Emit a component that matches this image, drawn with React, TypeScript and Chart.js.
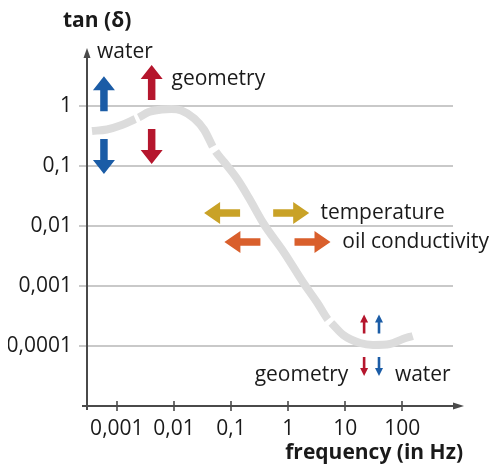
import React, { useEffect, useRef } from 'react';
import { Chart, registerables } from 'chart.js';

Chart.register(...registerables);

// ---- data ----
const freqHz = [
  3.67e-4, 6.7e-4, 1.22e-3, 2.1e-3, 2.42e-3, 3.61e-3, 6.06e-3, 9.05e-3, 0.0135, 0.0227,
  0.0339, 0.0477, 0.0537, 0.0755, 0.132, 0.206, 0.375, 0.835, 1.86, 3.26,
  4.96, 5.71, 9.23, 18.2, 30.7, 60.6, 102, 152,
];
const tanDelta = [
  0.383, 0.406, 0.482, 0.607, 0.643, 0.794, 0.874, 0.891, 0.841, 0.619,
  0.398, 0.211, 0.174, 0.1166, 0.0584, 0.0293, 0.0108, 3.69e-3, 1.12e-3, 5.21e-4,
  2.76e-4, 2.42e-4, 1.525e-4, 1.12e-4, 1.04e-4, 1.08e-4, 1.31e-4, 1.47e-4,
];
// segments starting at these indices are left blank (small cuts in the curve)
const gapStarts = [3, 11, 20];

const xTickValues = [0.001, 0.01, 0.1, 1, 10, 100];
const xTickLabels = ['0,001', '0,01', '0,1', '1', '10', '100'];
const yTickValues = [0.0001, 0.001, 0.01, 0.1, 1];
const yTickLabels = ['0,0001', '0,001', '0,01', '0,1', '1'];
const xRange = [Math.pow(10, -3.487), Math.pow(10, 2.887)];
const yRange = [1e-5, Math.pow(10, 0.967)];

const BLUE = '#1b5ca6';
const RED = '#b5162d';
const YELLOW = '#c9a227';
const ORANGE = '#d95f2c';
const CURVE = '#dcdcdc';
const AXIS = '#4a4a4a';
const GRID = '#c9c9c9';
const TEXT = '#1a1a1a';
const FONT = '"Open Sans", "Noto Sans", sans-serif';

// annotation arrows, anchored at data coordinates (centre of arrow)
type Arrow = { x: number; y: number; dir: 'up' | 'down' | 'left' | 'right'; color: string; size: 'big' | 'small' };
const arrows: Arrow[] = [
  { x: 5.94e-4, y: 1.6, dir: 'up', color: BLUE, size: 'big' },
  { x: 5.94e-4, y: 0.144, dir: 'down', color: BLUE, size: 'big' },
  { x: 4.07e-3, y: 2.46, dir: 'up', color: RED, size: 'big' },
  { x: 4.07e-3, y: 0.211, dir: 'down', color: RED, size: 'big' },
  { x: 0.0697, y: 0.0165, dir: 'left', color: YELLOW, size: 'big' },
  { x: 1.13, y: 0.0165, dir: 'right', color: YELLOW, size: 'big' },
  { x: 0.158, y: 0.0054, dir: 'left', color: ORANGE, size: 'big' },
  { x: 2.67, y: 0.0054, dir: 'right', color: ORANGE, size: 'big' },
  { x: 21.4, y: 2.33e-4, dir: 'up', color: RED, size: 'small' },
  { x: 39, y: 2.33e-4, dir: 'up', color: BLUE, size: 'small' },
  { x: 21.4, y: 4.55e-5, dir: 'down', color: RED, size: 'small' },
  { x: 39, y: 4.55e-5, dir: 'down', color: BLUE, size: 'small' },
];

type Label = { text: string; x: number; y: number; align: CanvasTextAlign };
const labels: Label[] = [
  { text: 'water', x: 4.49e-4, y: 7.94, align: 'left' },
  { text: 'geometry', x: 9.06e-3, y: 2.82, align: 'left' },
  { text: 'temperature', x: 3.67, y: 0.0165, align: 'left' },
  { text: 'oil conductivity', x: 8.87, y: 0.0054, align: 'left' },
  { text: 'geometry', x: 11.3, y: 3.29e-5, align: 'right' },
  { text: 'water', x: 74, y: 3.29e-5, align: 'left' },
];

const yTitle = 'tan (δ)';
const xTitle = 'frequency (in Hz)';

function drawArrow(ctx: CanvasRenderingContext2D, cx: number, cy: number, a: Arrow) {
  const big = a.size === 'big';
  const horiz = a.dir === 'left' || a.dir === 'right';
  const len = big ? (horiz ? 36 : 35) : 19;
  const shaft = big ? 7.5 : 2.6;
  const headW = big ? 22 : 8;
  const headL = big ? (horiz ? 16 : 14) : 8;
  const angle = a.dir === 'right' ? 0 : a.dir === 'left' ? Math.PI : a.dir === 'up' ? -Math.PI / 2 : Math.PI / 2;
  ctx.save();
  ctx.translate(cx, cy);
  ctx.rotate(angle);
  const h = len / 2;
  ctx.beginPath();
  ctx.moveTo(-h, -shaft / 2);
  ctx.lineTo(h - headL, -shaft / 2);
  ctx.lineTo(h - headL, -headW / 2);
  ctx.lineTo(h, 0);
  ctx.lineTo(h - headL, headW / 2);
  ctx.lineTo(h - headL, shaft / 2);
  ctx.lineTo(-h, shaft / 2);
  ctx.closePath();
  ctx.fillStyle = a.color;
  ctx.fill();
  ctx.restore();
}

const overlayPlugin = {
  id: 'overlay',
  afterDraw(chart: any) {
    const { ctx, chartArea, scales } = chart;
    const xs = scales.x;
    const ys = scales.y;
    ctx.save();
    ctx.strokeStyle = AXIS;
    ctx.fillStyle = AXIS;
    ctx.lineWidth = 2;
    const left = chartArea.left;
    const bottom = chartArea.bottom;
    ctx.beginPath();
    ctx.moveTo(left, bottom + 4);
    ctx.lineTo(left, chartArea.top + 6);
    ctx.moveTo(left - 5, bottom);
    ctx.lineTo(chartArea.right + 4, bottom);
    ctx.stroke();
    ctx.beginPath();
    ctx.moveTo(left, chartArea.top);
    ctx.lineTo(left - 3.5, chartArea.top + 10);
    ctx.lineTo(left + 3.5, chartArea.top + 10);
    ctx.closePath();
    ctx.fill();
    const tip = chartArea.right + 11;
    ctx.beginPath();
    ctx.moveTo(tip, bottom);
    ctx.lineTo(tip - 11, bottom - 3.5);
    ctx.lineTo(tip - 11, bottom + 3.5);
    ctx.closePath();
    ctx.fill();
    ctx.lineWidth = 1.6;
    ctx.beginPath();
    xTickValues.forEach((v) => {
      const px = Math.round(xs.getPixelForValue(v));
      ctx.moveTo(px, bottom - 5);
      ctx.lineTo(px, bottom + 5);
    });
    ctx.stroke();

    arrows.forEach((a) => drawArrow(ctx, xs.getPixelForValue(a.x), ys.getPixelForValue(a.y), a));

    ctx.fillStyle = TEXT;
    ctx.font = `21px ${FONT}`;
    ctx.textBaseline = 'middle';
    labels.forEach((l) => {
      ctx.textAlign = l.align;
      ctx.fillText(l.text, xs.getPixelForValue(l.x), ys.getPixelForValue(l.y));
    });

    ctx.font = `bold 21px ${FONT}`;
    ctx.textAlign = 'left';
    ctx.fillText(yTitle, left - 24, chartArea.top - 27);
    ctx.textAlign = 'right';
    ctx.fillText(xTitle, chartArea.right + 10, bottom + 47);
    ctx.restore();
  },
};

export default function App() {
  const ref = useRef<HTMLCanvasElement | null>(null);
  useEffect(() => {
    if (!ref.current) return;
    const chart = new Chart(ref.current, {
      type: 'line',
      data: {
        datasets: [
          {
            data: freqHz.map((f, i) => ({ x: f, y: tanDelta[i] })),
            borderColor: CURVE,
            borderWidth: 8,
            borderCapStyle: 'butt',
            pointRadius: 0,
            cubicInterpolationMode: 'monotone',
            fill: false,
            segment: {
              borderColor: (c: any) => (gapStarts.includes(c.p0DataIndex) ? 'rgba(255,255,255,0)' : CURVE),
            },
          },
        ],
      },
      options: {
        responsive: false,
        animation: false,
        events: [],
        layout: { padding: { top: 40, right: 38, left: 0, bottom: 0 } },
        plugins: { legend: { display: false }, tooltip: { enabled: false }, title: { display: false } },
        scales: {
          x: {
            type: 'logarithmic',
            min: xRange[0],
            max: xRange[1],
            afterBuildTicks: (s: any) => {
              s.ticks = xTickValues.map((v) => ({ value: v }));
            },
            afterFit: (s: any) => {
              s.height = 60;
            },
            grid: { display: false, drawTicks: false },
            border: { display: false },
            ticks: {
              autoSkip: false,
              maxRotation: 0,
              padding: 10,
              color: TEXT,
              font: { family: FONT, size: 21 },
              callback: (_v: any, i: number) => xTickLabels[i],
            },
          },
          y: {
            type: 'logarithmic',
            min: yRange[0],
            max: yRange[1],
            afterBuildTicks: (s: any) => {
              s.ticks = yTickValues.map((v) => ({ value: v }));
            },
            afterFit: (s: any) => {
              s.width = 79;
            },
            grid: { color: GRID, lineWidth: 2, drawTicks: true, tickLength: 8, tickColor: GRID },
            border: { display: false },
            ticks: {
              autoSkip: false,
              padding: 7,
              color: TEXT,
              font: { family: FONT, size: 21 },
              callback: (_v: any, i: number) => yTickLabels[i],
            },
          },
        },
      },
      plugins: [overlayPlugin],
    } as any);
    return () => chart.destroy();
  }, []);
  return (
    <div style={{ position: 'absolute', left: 8, top: 8, width: 483, height: 458 }}>
      <canvas ref={ref} width={483} height={458} style={{ display: 'block' }} />
    </div>
  );
}
